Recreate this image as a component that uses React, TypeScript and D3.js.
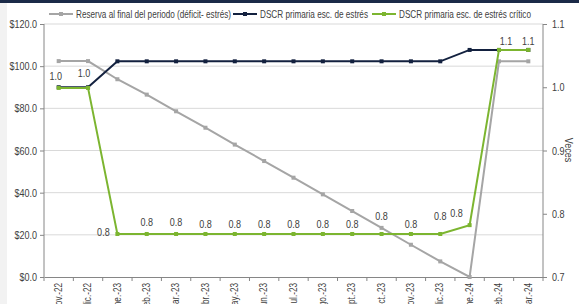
import React, { useEffect, useRef } from 'react';
import * as d3 from 'd3';

const categories = ['nov.-22', 'dic.-22', 'ene.-23', 'feb.-23', 'mar.-23', 'abr.-23', 'may.-23', 'jun.-23', 'jul.-23', 'ago.-23', 'sept.-23', 'oct.-23', 'nov.-23', 'dic.-23', 'ene.-24', 'feb.-24', 'mar.-24'];

// Reserva al final del periodo (left axis, $)
const reserva = [102.4, 102.4, 93.8, 86.5, 78.6, 70.8, 62.8, 55.0, 47.1, 39.2, 31.3, 23.3, 15.3, 7.4, 0.0, 102.3, 102.3];
// DSCR primaria esc. de estrés (right axis, veces)
const dscrEstres = [1.0, 1.0, 1.041, 1.041, 1.041, 1.041, 1.041, 1.041, 1.041, 1.041, 1.041, 1.041, 1.041, 1.041, 1.059, 1.059, 1.059];
// DSCR primaria esc. de estrés crítico (right axis, veces)
const dscrCritico = [0.999, 0.999, 0.768, 0.768, 0.768, 0.768, 0.768, 0.768, 0.768, 0.768, 0.768, 0.768, 0.768, 0.768, 0.782, 1.059, 1.059];

const leftTicks = [0, 20, 40, 60, 80, 100, 120];
const rightTicks = [0.7, 0.8, 0.9, 1.0, 1.1];

// label nudges for the green series data labels
const labelDx = [-3, -4, -14, 0, 0, 0, 0, 0, 0, 0, 0, 0, 0, 0, -13, 7, 0];
const labelDy = [-12, -15, -2, -12, -12, -10, -10, -10, -10, -10, -10, -18, -10, -18, -12, -9, -9];

const GRAY = '#a5a5a5';
const NAVY = '#13213f';
const GREEN = '#7cb530';
const TEXT = '#404040';
const FONT = '"Liberation Sans", Arial, sans-serif';
const FS = 11;
const SQ = 0.82; // horizontal squeeze, the original font is a narrow one

export default function App() {
  const ref = useRef<SVGSVGElement>(null);

  useEffect(() => {
    document.body.style.margin = '0';
    const svg = d3.select(ref.current);
    svg.selectAll('*').remove();

    const left = 44, right = 543, top = 24, bottom = 277;

    const x = d3.scaleBand().domain(categories).range([left, right]);
    const cx = (i: number) => x(categories[i])! + x.bandwidth() / 2;
    const yL = d3.scaleLinear().domain([0, 120]).range([bottom, top]);
    const yR = d3.scaleLinear().domain([0.7, 1.1]).range([bottom, top]);

    svg.append('rect').attr('width', 579).attr('height', 304).attr('fill', '#fff');

    // gridlines
    svg.append('g').selectAll('line').data(leftTicks.slice(1)).join('line')
      .attr('x1', left).attr('x2', right)
      .attr('y1', d => yL(d)).attr('y2', d => yL(d))
      .attr('stroke', '#d9d9d9').attr('stroke-width', 1);

    const axL = svg.append('g').attr('transform', `translate(${left},0)`)
      .call(d3.axisLeft(yL).tickValues(leftTicks).tickSize(4).tickPadding(3).tickFormat(d => '$' + d3.format('.1f')(d as number)));
    const axR = svg.append('g').attr('transform', `translate(${right},0)`)
      .call(d3.axisRight(yR).tickValues(rightTicks).tickSize(4).tickPadding(5).tickFormat(d3.format('.1f')));
    const axB = svg.append('g').attr('transform', `translate(0,${bottom})`)
      .call(d3.axisBottom(x).tickSize(0).tickPadding(0));
    axB.append('g').selectAll('line').data(d3.range(categories.length + 1)).join('line')
      .attr('x1', i => left + i * x.step()).attr('x2', i => left + i * x.step())
      .attr('y1', 0).attr('y2', 4).attr('stroke', '#868686');

    [axL, axR, axB].forEach(a => {
      a.select('.domain').attr('stroke', '#868686');
      a.selectAll('.tick line').attr('stroke', '#868686');
      a.selectAll('text').attr('fill', TEXT).attr('font-size', FS).attr('font-family', FONT);
    });
    axL.select('.domain').attr('d', `M0,${top}V${bottom}`);
    axR.select('.domain').attr('d', `M0,${top}V${bottom}`);

    const series = [
      { vals: reserva, y: yL, color: GRAY },
      { vals: dscrEstres, y: yR, color: NAVY },
      { vals: dscrCritico, y: yR, color: GREEN },
    ];
    series.forEach(s => {
      const line = d3.line<number>().x((_, i) => cx(i)).y(d => s.y(d));
      svg.append('path').attr('d', line(s.vals)).attr('fill', 'none')
        .attr('stroke', s.color).attr('stroke-width', 2);
      svg.append('g').selectAll('rect').data(s.vals).join('rect')
        .attr('x', (_, i) => cx(i) - 2).attr('y', d => s.y(d) - 2)
        .attr('width', 4).attr('height', 4).attr('fill', s.color);
    });

    // data labels for the critical DSCR
    const labels = svg.append('g').selectAll('text').data(dscrCritico).join('text')
      .attr('x', (_, i) => cx(i) + labelDx[i])
      .attr('y', (d, i) => yR(d) + labelDy[i])
      .attr('dy', '0.35em')
      .attr('text-anchor', 'middle')
      .attr('font-size', FS).attr('font-family', FONT).attr('fill', TEXT)
      .text(d => d3.format('.1f')(d));

    // squeeze the horizontal texts
    [axL.selectAll<SVGTextElement, unknown>('text'), axR.selectAll<SVGTextElement, unknown>('text'), labels].forEach(sel => {
      sel.each(function () {
        const w = this.getComputedTextLength();
        d3.select(this).attr('textLength', w * SQ).attr('lengthAdjust', 'spacingAndGlyphs');
      });
    });

    // rotated category labels
    axB.selectAll('.tick text')
      .attr('font-size', 10)
      .attr('transform', `rotate(-90) scale(${SQ},1)`)
      .attr('text-anchor', 'end')
      .attr('x', -6 / SQ).attr('y', 0).attr('dy', '0.32em');

    svg.append('text').attr('transform', `translate(565,150) rotate(90) scale(${SQ},1)`)
      .attr('text-anchor', 'middle').attr('font-size', FS).attr('font-family', FONT).attr('fill', TEXT)
      .text('Veces');

    // legend
    const legend = [
      { name: 'Reserva al final del periodo (déficit- estrés)', color: GRAY, x: 49, w: 155 },
      { name: 'DSCR primaria esc. de estrés', color: NAVY, x: 233, w: 108 },
      { name: 'DSCR primaria esc. de estrés crítico', color: GREEN, x: 372, w: 132 },
    ];
    const lg = svg.append('g').selectAll('g').data(legend).join('g')
      .attr('transform', d => `translate(${d.x},14)`);
    lg.append('line').attr('x1', 0).attr('x2', 24).attr('stroke', d => d.color).attr('stroke-width', 2);
    lg.append('rect').attr('x', 10).attr('y', -2).attr('width', 4).attr('height', 4).attr('fill', d => d.color);
    lg.append('text').attr('x', 27).attr('dy', '0.35em')
      .attr('font-size', FS).attr('font-family', FONT).attr('fill', TEXT)
      .attr('textLength', d => d.w).attr('lengthAdjust', 'spacingAndGlyphs')
      .text(d => d.name);

    // frame: light gray strip on the left and dark band on top, drawn last
    svg.append('rect').attr('width', 7).attr('height', 304).attr('fill', '#f2f2f2');
    svg.append('rect').attr('width', 579).attr('height', 3).attr('fill', '#1b2a48');
  }, []);

  return (
    <svg ref={ref} width={579} height={304} style={{ display: 'block' }} />
  );
}
